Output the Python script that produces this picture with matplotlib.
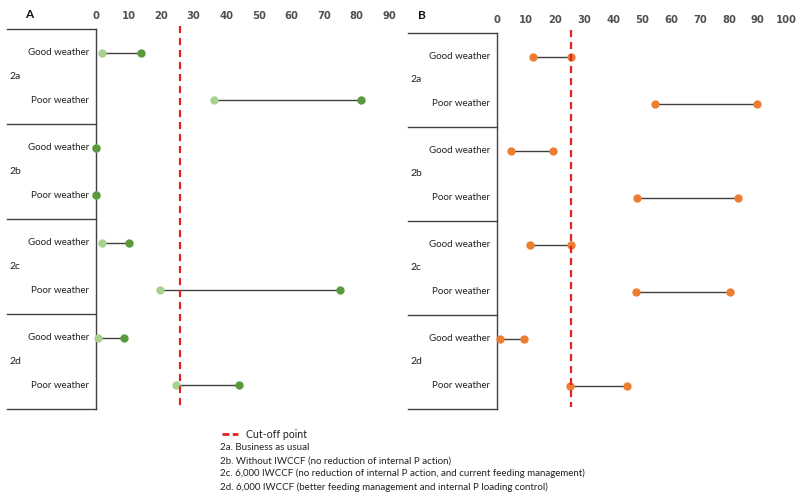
import matplotlib
matplotlib.use("Agg")
import matplotlib.pyplot as plt
from matplotlib.lines import Line2D
import matplotlib.transforms as mtransforms

plt.rcParams['font.family'] = ['Lato', 'DejaVu Sans']

scenarios = ["2a", "2b", "2c", "2d"]
weather = ["Good weather", "Poor weather"]

# Panel A (green): start (light) and end (dark) values
a_start = [1.9, 36.3, 0.0, 0.0, 1.7, 19.8, 0.7, 24.6]
a_end = [13.8, 81.3, 0.0, 0.0, 10.0, 75.0, 8.6, 44.0]
# Panel B (orange)
b_start = [12.4, 54.5, 4.8, 48.2, 11.2, 47.9, 1.0, 25.1]
b_end = [25.3, 89.8, 19.1, 83.3, 25.3, 80.3, 9.1, 44.8]

cutoff_a = 25.8
cutoff_b = 25.3

a_ticks = list(range(0, 91, 10))
b_ticks = list(range(0, 101, 10))

legend_lines = [
    "2a. Business as usual",
    "2b. Without IWCCF (no reduction of internal P action)",
    "2c. 6,000 IWCCF (no reduction of internal P action, and current feeding management)",
    "2d. 6,000 IWCCF (better feeding management and internal P loading control)",
]

W, H = 800, 493
fig = plt.figure(figsize=(W / 100, H / 100), dpi=100)


def make_ax(left_px, right_px, top_px, bottom_px):
    return fig.add_axes([left_px / W, 1 - bottom_px / H,
                         (right_px - left_px) / W, (bottom_px - top_px) / H])


LINE_C = "#404040"


def draw_panel(ax, starts, ends, c_start, c_end, ticks, xmax, cutoff, box_left,
               title, title_x, title_y):
    n = len(starts)
    ys = list(range(n))
    for y, s, e in zip(ys, starts, ends):
        ax.plot([s, e], [y, y], color=LINE_C, lw=1.0, zorder=2, clip_on=False)
        ax.plot([s], [y], 'o', color=c_start, ms=6, mec='none', zorder=3, clip_on=False)
        ax.plot([e], [y], 'o', color=c_end, ms=6, mec='none', zorder=3, clip_on=False)
    ax.plot([cutoff, cutoff], [-0.57, 7.45], color="#e02424", lw=1.6,
            dashes=(3.2, 2.2), zorder=4, clip_on=False)
    ax.set_xlim(0, xmax)
    ax.set_ylim(7.5, -0.5)
    ax.xaxis.tick_top()
    ax.set_xticks(ticks)
    ax.set_xticklabels([str(t) for t in ticks], family=['DejaVu Sans'],
                       fontsize=7.2, color="#505050", fontweight='bold')
    ax.tick_params(axis='x', length=0, pad=6)
    ax.set_yticks([])
    for sp in ['top', 'right', 'bottom']:
        ax.spines[sp].set_visible(False)
    ax.spines['left'].set_color(LINE_C)
    ax.spines['left'].set_linewidth(1.0)
    trans = mtransforms.blended_transform_factory(ax.transAxes, ax.transData)
    for yb in [-0.5, 1.5, 3.5, 5.5, 7.5]:
        ax.plot([box_left, 0], [yb, yb], color=LINE_C, lw=1.0,
                transform=trans, clip_on=False)
    for i, y in enumerate(ys):
        ax.text(-0.024, y, weather[i % 2], transform=trans, ha='right',
                va='center', fontsize=7.0, color="#222222")
    for k, sc in enumerate(scenarios):
        ax.text(box_left + 0.01, 2 * k + 0.5, sc, transform=trans, ha='left',
                va='center', fontsize=7.5, color="#222222")
    ax.text(title_x, title_y, title, transform=ax.transAxes, ha='left',
            va='center', fontsize=8.5, fontweight='bold', color="#111111")


axA = make_ax(96, 389, 29, 409)
draw_panel(axA, a_start, a_end, "#a9d18e", "#5a9a3c", a_ticks, 90, cutoff_a, -0.304,
           "A", -0.242, 1.037)

axB = make_ax(497.3, 786.7, 33, 409)
draw_panel(axB, b_start, b_end, "#ed7d31", "#ed7d31", b_ticks, 100, cutoff_b, -0.309,
           "B", -0.274, 1.047)

# Legend / notes
fig.add_artist(Line2D([222 / W, 238 / W], [1 - 434 / H, 1 - 434 / H], color="#e02424",
                      lw=2.0, dashes=(2.5, 1.2)))
fig.text(246 / W, 1 - 434 / H, "Cut-off point", ha='left', va='center', fontsize=7.6,
         color="#222222")
for i, t in enumerate(legend_lines):
    fig.text(220 / W, 1 - (447.5 + i * 13.1) / H, t, ha='left', va='center',
             fontsize=7.05, color="#222222")

fig.savefig("out.png", dpi=100)
